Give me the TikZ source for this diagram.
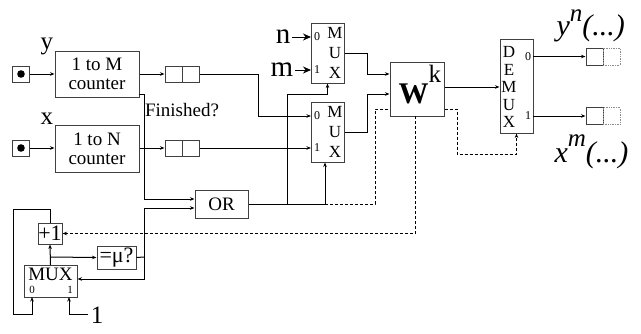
\documentclass[tikz,border=0pt]{standalone}
\usepackage{fontspec}
\setmainfont{Liberation Serif}
\usetikzlibrary{arrows.meta}
\newcommand{\fs}[1]{\fontsize{#1}{#1}\selectfont}
\begin{document}
\begin{tikzpicture}[x=1pt, y=-1pt, line width=1pt,
	>={Stealth[length=4.5pt,width=3.5pt]},
	box/.style={draw=black!75, fill=white, inner sep=0pt, align=center, font=\fontsize{19}{19}\selectfont},
	reg/.style={draw=black!75, minimum width=34pt, minimum height=16pt, inner sep=0pt,
		path picture={\draw[black!75] (path picture bounding box.north) -- (path picture bounding box.south);}},
	src/.style={draw=black!75, minimum width=17pt, minimum height=16pt, inner sep=0pt,
		path picture={\fill (path picture bounding box.center) circle (3.8pt);}},
	muxbox/.style={box, minimum width=33pt, minimum height=60pt},
	letters/.style={align=center, inner sep=0pt, font=\fontsize{17}{20}\selectfont},
	pinlbl/.style={inner sep=0pt, font=\fs{12}},
	lbl/.style={anchor=base, inner sep=1pt},
	sel/.style={dash pattern=on 3pt off 2pt},
	bigtip/.style={-{Stealth[length=8pt,width=7pt]}}]
\useasboundingbox (0,0) rectangle (641,333);

% counters
\node[src] (srcy) at (21,74) {};
\node[src] (srcx) at (21,148) {};
\node[box, minimum width=84pt, minimum height=46pt] (cntM) at (97,74) {1 to M\\counter};
\node[box, minimum width=84pt, minimum height=47pt] (cntN) at (97,148.5) {1 to N\\counter};
\node[lbl, font=\fs{25}] (ylbl) at (47,49) {y};
\node[lbl, font=\fs{25}] (xlbl) at (47,124) {x};
\node[reg] (regM) at (182,74) {};
\node[reg] (regN) at (182,148) {};
\node[lbl, font=\fs{19}] (fin) at (182,116) {Finished?};

% muxes and W
\node[muxbox] (muxA) at (327.5,53) {};
\node[letters] (muxAl) at (335,53) {M\\U\\X};
\node[pinlbl] (muxA0) at (317,37) {0};
\node[pinlbl] (muxA1) at (317,70) {1};
\node[muxbox] (muxB) at (327.5,132) {};
\node[letters] (muxBl) at (335,132) {M\\U\\X};
\node[pinlbl] (muxB0) at (317,116) {0};
\node[pinlbl] (muxB1) at (317,148) {1};
\node[lbl, font=\fs{29}] (nlbl) at (283,43) {n};
\node[lbl, font=\fs{29}] (mlbl) at (282,76) {m};
\node[box, minimum width=54pt, minimum height=54pt] (W) at (417,89) {};
\node[lbl, inner sep=0pt, anchor=base west, font=\fs{30}] (Wlbl) at (398,103) {\textbf{W}\raisebox{21pt}{\fs{25}k}};
\node[box, minimum width=33pt, minimum height=94pt] (demux) at (516.5,86) {};
\node[letters, font=\fontsize{17}{17.5}\selectfont] (demuxl) at (509,87) {D\\E\\M\\U\\X};
\node[pinlbl] (dm0l) at (528,57) {0};
\node[pinlbl] (dm1l) at (528,116) {1};

% outputs
\node[draw=black!75, minimum size=17pt, inner sep=0pt] (outA) at (594.5,56.5) {};
\node[draw=black!45, densely dotted, line width=0.7pt, minimum size=17pt, inner sep=0pt] (outAd) at (611.5,56.5) {};
\node[draw=black!75, minimum size=17pt, inner sep=0pt] (outB) at (594.5,116) {};
\node[draw=black!45, densely dotted, line width=0.7pt, minimum size=17pt, inner sep=0pt] (outBd) at (611.5,116) {};
\node[lbl, inner sep=0pt, anchor=base west, font=\fs{30}\itshape] (ylab) at (556,35) {y\raisebox{14pt}{\fs{25}n}(...)};
\node[lbl, inner sep=0pt, anchor=base west, font=\fs{30}\itshape] (xlab) at (554,162) {x\raisebox{16pt}{\fs{25}m}(...)};

% OR and step counter
\node[box, minimum width=53pt, minimum height=28pt] (OR) at (221.5,204) {OR};
\node[box, minimum width=24pt, minimum height=21pt, font=\fs{22}] (plus) at (50,233.5) {+1};
\node[box, minimum width=39pt, minimum height=23pt, font=\fs{22}] (eqmu) at (116.5,257.5) {=μ?};
\node[box, minimum width=53pt, minimum height=32pt] (muxS) at (50.5,281.5) {};
\node[inner sep=0pt, font=\fs{19}] (muxSl) at (50.5,274) {MUX};
\node[inner sep=0pt, font=\fs{11}] (muxS0) at (32,290) {0};
\node[inner sep=0pt, font=\fs{11}] (muxS1) at (70,290) {1};
\node[lbl, inner sep=2pt, font=\fs{25}] (one) at (97,323) {1};

% junction points
\coordinate (jn) at (144,257);
\coordinate (orA) at (287,204);
\coordinate (orB) at (325,204);
\coordinate (br) at (50,257);

% wires
\draw[->] (srcy) -- (cntM);
\draw[->] (srcx.east) -- (srcx.east -| cntN.west);
\draw[->] (cntM) -- (regM);
\draw[->] (regN.west -| cntN.east) -- (regN.west);
\draw[->] (regM.east) -- (258,74) |- (311,116);
\draw[->] (regN.east) -- (311,148);
\draw[bigtip] (nlbl.east |- 0,37) -- (311,37);
\draw[bigtip] (mlbl.east |- 0,70) -- (311,70);
\draw[->] (139,94) -- (144,94) |- (OR.west |- 0,199);
\draw (eqmu.east) -- (jn);
\draw[->] (144,208) -- (OR.west |- 0,208);
\draw[->] (144,208) |- (muxS.east |- 0,279);
\draw (OR.east) -- (orB);
\draw[->] (orA) |- (327.5,94) -- (muxA.south);
\draw[->] (orB) -- (orB |- muxB.south);
\draw[->] (muxA.east) -- ++(23,0) |- (W.west |- 0,74);
\draw[->] (muxB.east) -- ++(23,0) |- (W.west |- 0,94);
\draw[->] (W.east |- 0,87) -- (demux.west |- 0,87);
\draw[->] (533,56.5) -- (outA.west);
\draw[->] (533,116) -- (outB.west);
\draw[sel] (orB) -- (375,204) |- (W.west |- 0,109);
\draw[sel,->] (W.east |- 0,109) -- (457,109) |- (516.5,154) -- (demux.south);
\draw[sel,->] (415,116) |- (plus.east);
\draw[->] (muxS.north) -- (plus.south);
\draw[->] (br) -- (eqmu.west);
\draw[->] (plus.north) -- (50,209) -| (13,314) -| (32,297);
\draw[->] (one.west) -| (69,297);
\end{tikzpicture}
\end{document}
